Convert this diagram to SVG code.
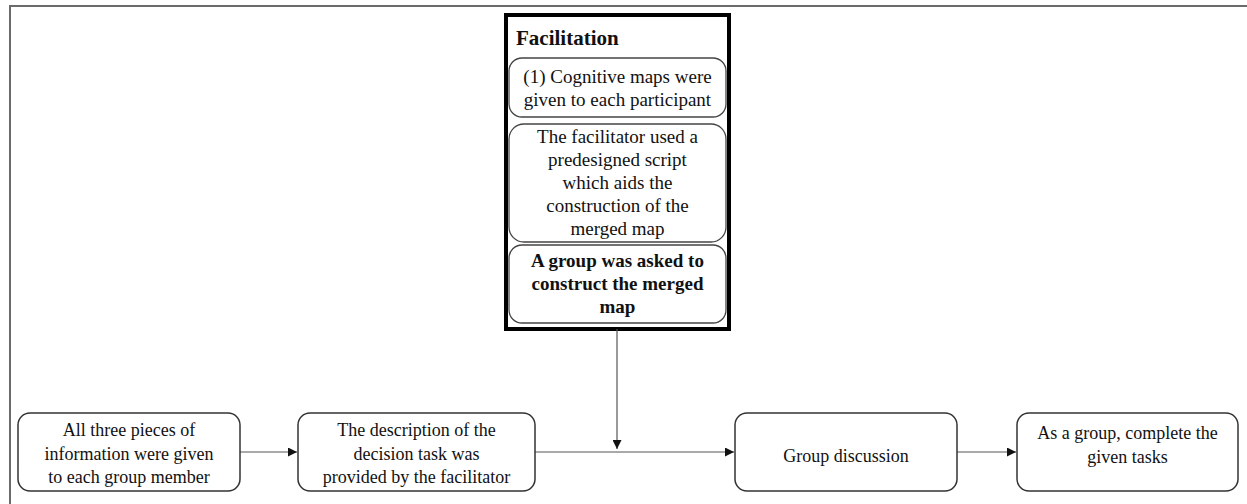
<svg xmlns="http://www.w3.org/2000/svg" width="1247" height="504" viewBox="0 0 1247 504">
<defs>
<style>
.t{font-family:"Liberation Serif","Times New Roman",serif;font-size:18px;fill:#111;text-anchor:middle}
.ti{font-family:"Liberation Serif","Times New Roman",serif;font-size:19px;fill:#111;text-anchor:middle}
.b{font-weight:bold}
.box{fill:#fff;stroke:#333;stroke-width:1.5}
.sub{fill:#fff;stroke:#444;stroke-width:1.3}
.c{fill:none;stroke:#555;stroke-width:1.2}
</style>
<marker id="ah" viewBox="0 0 10 10" refX="10" refY="5" markerWidth="9" markerHeight="9" markerUnits="userSpaceOnUse" orient="auto">
<path d="M0,0 L10,5 L0,10 z" fill="#111"/>
</marker>
</defs>
<rect width="1247" height="504" fill="#fff"/>
<path d="M10,504 V6 H1247" fill="none" stroke="#6b6b6b" stroke-width="2"/>

<g id="facilitation">
<rect x="506" y="15" width="223" height="314" fill="#fff" stroke="#000" stroke-width="4"/>
<text x="516" y="45" font-family="Liberation Serif, Times New Roman, serif" font-size="21" font-weight="bold" fill="#111">Facilitation</text>
</g>
<g id="sub1">
<rect class="sub" x="509" y="58" width="217" height="59" rx="13"/>
<text class="ti" x="617.5" y="83">(1) Cognitive maps were</text>
<text class="ti" x="617.5" y="106">given to each participant</text>
</g>
<g id="sub2">
<rect class="sub" x="509" y="124" width="217" height="118" rx="15"/>
<text class="ti" x="617.5" y="143">The facilitator used a</text>
<text class="ti" x="617.5" y="166">predesigned script</text>
<text class="ti" x="617.5" y="189">which aids the</text>
<text class="ti" x="617.5" y="212">construction of the</text>
<text class="ti" x="617.5" y="235">merged map</text>
</g>
<g id="sub3">
<rect class="sub" x="509" y="245" width="217" height="78" rx="13"/>
<text class="ti b" x="617.5" y="267">A group was asked to</text>
<text class="ti b" x="617.5" y="290">construct the merged</text>
<text class="ti b" x="617.5" y="313">map</text>
</g>

<g id="connectors">
<line class="c" x1="617" y1="329" x2="617" y2="449" marker-end="url(#ah)"/>
<line class="c" x1="240" y1="452" x2="297" y2="452" marker-end="url(#ah)"/>
<line class="c" x1="535" y1="452" x2="734" y2="452" marker-end="url(#ah)"/>
<line class="c" x1="957" y1="452" x2="1016" y2="452" marker-end="url(#ah)"/>
</g>

<g id="n1">
<rect class="box" x="18" y="413" width="222" height="78" rx="12"/>
<text class="t" x="129" y="436">All three pieces of</text>
<text class="t" x="129" y="460">information were given</text>
<text class="t" x="129" y="483">to each group member</text>
</g>
<g id="n2">
<rect class="box" x="298" y="413" width="237" height="78" rx="12"/>
<text class="t" x="416.5" y="436">The description of the</text>
<text class="t" x="416.5" y="460">decision task was</text>
<text class="t" x="416.5" y="483">provided by the facilitator</text>
</g>
<g id="n3">
<rect class="box" x="735" y="413" width="222" height="78" rx="12"/>
<text class="t" x="846" y="462">Group discussion</text>
</g>
<g id="n4">
<rect class="box" x="1017" y="413" width="221" height="78" rx="12"/>
<text class="t" x="1127.5" y="439">As a group, complete the</text>
<text class="t" x="1127.5" y="463">given tasks</text>
</g>
</svg>
